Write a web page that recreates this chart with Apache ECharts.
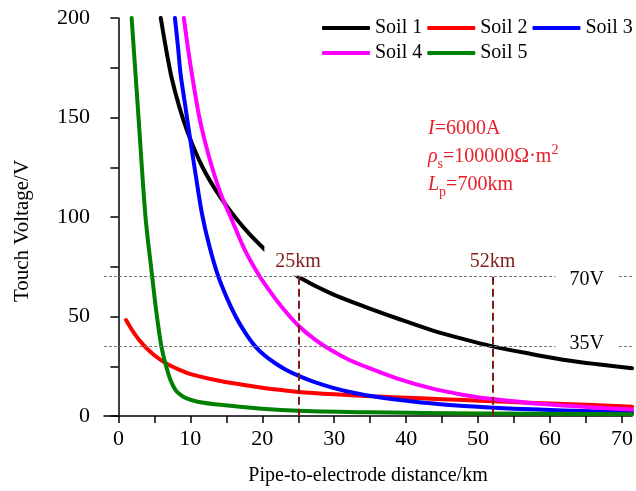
<!DOCTYPE html>
<html>
<head>
<meta charset="utf-8">
<script src="https://cdn.jsdelivr.net/npm/echarts@6/dist/echarts.min.js"></script>
<style>html,body{margin:0;padding:0;background:#fff;}#c{width:636px;height:491px;}</style>
</head>
<body>
<div id="c"></div>
<script>
// ---- data ----
const seriesNames = ['Soil 1', 'Soil 2', 'Soil 3', 'Soil 4', 'Soil 5'];
const soil1 = [[5.89,200],[6.6,185],[7.4,170],[8.5,155],[9.9,140],[11.7,125],[13.8,112],[16.2,100],[18.2,91.5],[20.2,84.2],[22.5,76.5],[25,70],[29.6,61.5],[34.2,55],[38.8,49],[43.4,43.3],[48,38.6],[52,35],[56.9,31.5],[61.8,28.3],[66.6,26],[71.4,24]];
const soil2 = [[1.06,48.2],[2.2,41.5],[3.5,35.6],[5,30.5],[6.6,26.5],[8.5,23.2],[10.3,20.8],[14.5,17.3],[18.6,15],[22,13.3],[25,12.1],[30,10.9],[36,9.8],[42,8.9],[48,8],[54,7.1],[60,6.3],[66,5.5],[71.4,4.7]];
const soil3 = [[7.86,200],[8.3,185],[8.64,172],[9.25,157],[9.9,141],[10.75,121],[11.6,102],[12.6,86],[13.8,71],[15,60],[16.3,50],[17.6,42],[18.9,35.5],[20.3,30.5],[21.8,26.5],[23.4,23],[25,20.3],[27.3,17],[29.6,14.4],[32,12.2],[34.2,10.6],[38.8,8.2],[43.4,6.4],[48,5],[55,3.7],[61.8,2.8],[71.4,1.8]];
const soil4 = [[9.1,200],[9.7,184],[10.3,170],[11.2,151],[12.1,137],[13.1,124],[14.3,111],[15.6,100],[17.5,84],[19.5,71],[21.2,62],[23,53.5],[25,45.5],[27.3,38.5],[29.6,33],[31.9,28.5],[34.2,25],[38.8,18.8],[43.4,14],[48,10.6],[52,8.5],[56.9,6.7],[61.8,5.3],[66.6,4.2],[71.4,3.3]];
const soil5 = [[1.84,200],[2.8,150],[3.77,100],[4.7,70],[5.25,53],[5.95,35.5],[6.6,25.5],[7.25,18],[8.0,12.8],[8.7,10.5],[9.4,9],[11,7.2],[14.5,5.5],[20,3.7],[25,2.7],[35,1.9],[50,1.3],[71.4,0.9]];
const soilData = [soil1, soil2, soil3, soil4, soil5];
const xTickValues = [0,5,10,15,20,25,30,35,40,45,50,55,60,65,70];
const xLabelValues = [0,10,20,30,40,50,60,70];
const thresholdVolts = [70, 35];
const thresholdLabels = ['70V', '35V'];
const distanceKm = [25, 52];
const distanceLabels = ['25km', '52km'];

const colors = ['#000000', '#ff0000', '#0000ff', '#ff00ff', '#008000'];
const FONT = 'Liberation Serif';
const MAROON = '#7f1d1d';

const chart = echarts.init(document.getElementById('c'), null, {renderer: 'canvas'});

const curveSeries = seriesNames.map((n, i) => ({
  name: n, type: 'line', data: soilData[i], smooth: 0.3,
  showSymbol: false, symbol: 'none',
  z: 2, lineStyle: {color: colors[i], width: 4, cap: 'round', join: 'round'},
  itemStyle: {color: colors[i]}, animation: false
}));

const grayLines = {
  name: 'thresholds', type: 'line', data: [], z: 1, animation: false,
  markLine: {
    silent: true, symbol: ['none', 'none'], animation: false,
    lineStyle: {color: '#777', width: 1, type: [3, 2]},
    label: {show: false},
    data: thresholdVolts.map(v => ({yAxis: v}))
  }
};

const labelBase = {show: true, position: 'inside', fontFamily: FONT, fontSize: 20, backgroundColor: '#fff'};
const annot = {
  name: 'annot', type: 'line', data: [], z: 10, animation: false,
  markLine: {
    silent: true, symbol: ['none', 'none'], animation: false,
    lineStyle: {color: MAROON, width: 2, type: [8, 4]},
    label: {show: false},
    data: distanceKm.map(d => [{coord: [d, thresholdVolts[0]]}, {coord: [d, 0]}])
  },
  markPoint: {
    silent: true, animation: false, symbol: 'circle', symbolSize: 1,
    itemStyle: {color: 'rgba(0,0,0,0)'},
    data: [
      {coord: [distanceKm[0] + 0.05, 77.75], label: Object.assign({}, labelBase, {formatter: distanceLabels[0], color: MAROON, padding: [5, 12, 4, 11]})},
      {coord: [distanceKm[1], 77.75], label: Object.assign({}, labelBase, {formatter: distanceLabels[1], color: MAROON, padding: [2, 4, 2, 4]})},
      {coord: [65.1, thresholdVolts[0] - 1.5], label: Object.assign({}, labelBase, {formatter: thresholdLabels[0], color: '#000', padding: [3, 14, 3, 14]})},
      {coord: [65.1, thresholdVolts[1] + 1.5], label: Object.assign({}, labelBase, {formatter: thresholdLabels[1], color: '#000', padding: [2, 14, 0, 14]})}
    ]
  }
};

const legendCommon = {
  orient: 'horizontal', padding: 0, itemWidth: 48, itemHeight: 4, itemGap: 5,
  icon: 'roundRect', textStyle: {fontFamily: FONT, fontSize: 20, color: '#000'},
  selectedMode: false
};

const RED = '#e8202a';
const option = {
  backgroundColor: '#fff',
  animation: false,
  color: colors,
  grid: {left: 104, right: 0, top: 18, bottom: 73, containLabel: false},
  legend: [
    Object.assign({}, legendCommon, {left: 322, top: 18, data: seriesNames.slice(0, 3)}),
    Object.assign({}, legendCommon, {left: 322, top: 43, data: seriesNames.slice(3)})
  ],
  xAxis: {
    type: 'value', min: -2, max: 71.4,
    name: 'Pipe-to-electrode distance/km', nameLocation: 'middle', nameGap: 50,
    nameTextStyle: {fontFamily: FONT, fontSize: 20, color: '#000'},
    axisLine: {show: true, onZero: false, lineStyle: {color: '#000', width: 1.5}},
    axisTick: {show: true, inside: false, length: 7, customValues: xTickValues, lineStyle: {color: '#000', width: 1.5}},
    axisLabel: {show: true, customValues: xLabelValues, margin: 12, fontFamily: FONT, fontSize: 22, color: '#000'},
    splitLine: {show: false}
  },
  yAxis: {
    type: 'value', min: 0, max: 200, interval: 25,
    name: 'Touch Voltage/V', nameLocation: 'middle', nameGap: 71, nameRotate: 90,
    nameTextStyle: {fontFamily: FONT, fontSize: 21, color: '#000', padding: [0, 28, 0, 0]},
    axisLine: {show: true, lineStyle: {color: '#000', width: 1.5}},
    axisTick: {show: true, inside: false, length: 8, lineStyle: {color: '#000', width: 1.5}},
    axisLabel: {margin: 14, fontFamily: FONT, fontSize: 22, color: '#000',
      formatter: v => (v % 50 === 0 ? String(v) : '')},
    splitLine: {show: false}
  },
  graphic: [{
    type: 'text', left: 428, top: 119, z: 100,
    style: {
      text: '{i|I}{n|=6000A}\n{i|ρ}{sub|s}{n|=100000Ω·m}{sup|2}\n{i|L}{sub|p}{n|=700km}',
      rich: {
        i: {fontFamily: FONT, fontStyle: 'italic', fontSize: 20, lineHeight: 28, fill: RED, color: RED},
        n: {fontFamily: FONT, fontSize: 20, lineHeight: 28, fill: RED, color: RED},
        sub: {fontFamily: FONT, fontSize: 14, lineHeight: 13, verticalAlign: 'bottom', fill: RED, color: RED},
        sup: {fontFamily: FONT, fontSize: 14, lineHeight: 13, verticalAlign: 'top', fill: RED, color: RED}
      }
    }
  }],
  series: [grayLines].concat(curveSeries).concat([annot])
};
chart.setOption(option);
</script>
</body>
</html>
